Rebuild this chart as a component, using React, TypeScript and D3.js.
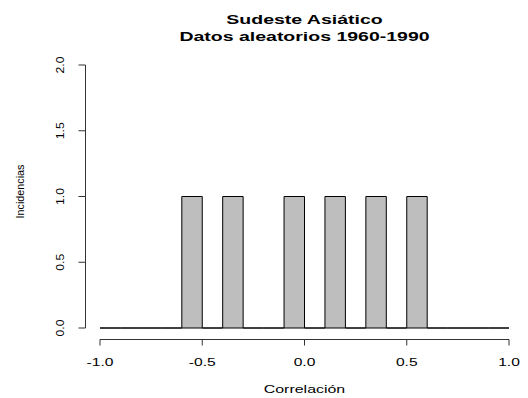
import React from "react";
import * as d3 from "d3";

const binStarts = [-1.0, -0.9, -0.8, -0.7, -0.6, -0.5, -0.4, -0.3, -0.2, -0.1, 0.0, 0.1, 0.2, 0.3, 0.4, 0.5, 0.6, 0.7, 0.8, 0.9];
const counts = [0, 0, 0, 0, 1, 0, 1, 0, 0, 1, 0, 1, 0, 1, 0, 1, 0, 0, 0, 0];
const binWidth = 0.1;
const xTicks = [-1.0, -0.5, 0.0, 0.5, 1.0];
const yTicks = [0.0, 0.5, 1.0, 1.5, 2.0];
const titleLines = ["Sudeste Asiático", "Datos aleatorios 1960-1990"];
const xLabel = "Correlación";
const yLabel = "Incidencias";

function WideText({ x, y, sx, children, ...rest }: any) {
  return (
    <g transform={`translate(${x},${y}) scale(${sx},1)`}>
      <text x={0} y={0} textAnchor="middle" {...rest}>{children}</text>
    </g>
  );
}

export default function App() {
  const W = 528, H = 398;
  const x = d3.scaleLinear().domain([-1, 1]).range([100, 509]);
  const y = d3.scaleLinear().domain([0, 2]).range([328, 65]);
  const font = "'Liberation Sans', Arial, sans-serif";
  const xAxisY = 339.5;
  const yAxisX = 85.5;
  const titleX = (x(-1) + x(1)) / 2;
  return (
    <svg width={W} height={H} style={{ position: "absolute", left: 0, top: 0 }} fontFamily={font}>
      <rect width={W} height={H} fill="white" />
      {titleLines.map((t, i) => (
        <WideText key={i} x={titleX} y={24 + i * 16.5} sx={1.5} fontWeight="bold" fontSize={13}>{t}</WideText>
      ))}
      {binStarts.map((b, i) => {
        const x0 = x(b), x1 = x(b + binWidth);
        const yt = y(counts[i]);
        const y0 = y(0);
        return (
          <path key={i} d={`M${x0},${y0}H${x1}V${yt}H${x0}Z`}
            fill="#BEBEBE" stroke="black" strokeWidth={1} />
        );
      })}
      {/* x axis */}
      <line x1={x(xTicks[0])} x2={x(xTicks[xTicks.length - 1])} y1={xAxisY} y2={xAxisY} stroke="#333" />
      {xTicks.map((t) => (
        <g key={t}>
          <line x1={x(t)} x2={x(t)} y1={xAxisY} y2={xAxisY + 6} stroke="#333" />
          <WideText x={x(t)} y={365.5} sx={1.42} fontSize={11}>{t.toFixed(1)}</WideText>
        </g>
      ))}
      <WideText x={titleX} y={392.5} sx={1.45} fontSize={11}>{xLabel}</WideText>
      {/* y axis */}
      <line x1={yAxisX} x2={yAxisX} y1={y(yTicks[0])} y2={y(yTicks[yTicks.length - 1])} stroke="#333" />
      {yTicks.map((t) => (
        <g key={t}>
          <line x1={yAxisX} x2={yAxisX - 7} y1={y(t)} y2={y(t)} stroke="#333" />
          <text transform={`translate(63.5,${y(t)}) rotate(-90) scale(1.12,1)`} textAnchor="middle" fontSize={11}>{t.toFixed(1)}</text>
        </g>
      ))}
      <text transform={`translate(23.5,${y(1) - 5}) rotate(-90)`} textAnchor="middle" fontSize={10.8}>{yLabel}</text>
    </svg>
  );
}
